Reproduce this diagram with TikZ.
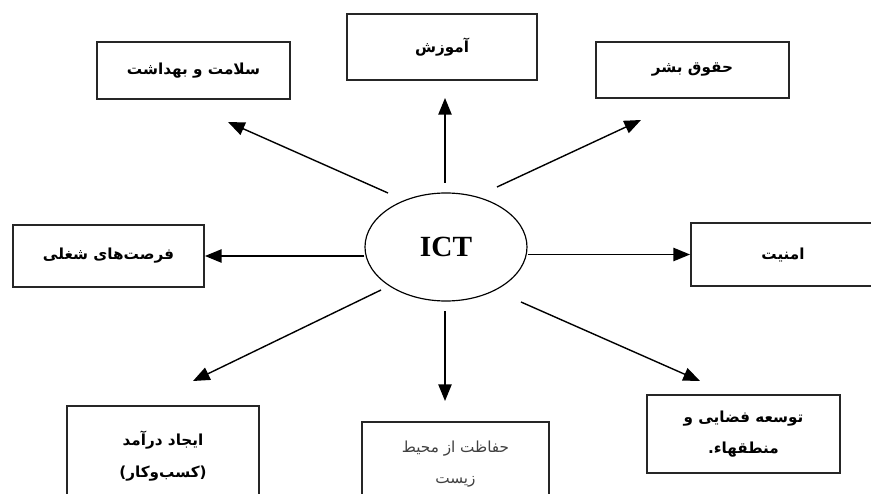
\documentclass[tikz,border=0pt]{standalone}
\usepackage{fontspec}
\setmainfont{Liberation Serif}
\newfontfamily\farsi[Script=Arabic]{DejaVu Sans}
\TeXXeTstate=1
\usetikzlibrary{arrows.meta,shapes.geometric}
\newcommand\fa[1]{\beginR #1\endR}

\begin{document}
\begin{tikzpicture}[x=0.3mm,y=-0.3mm,
    box/.style={draw=black!85,line width=1.6pt,inner sep=0pt,align=center,
      font=\farsi\bfseries\fontsize{13}{27}\selectfont},
    arr/.style={line width=1.2pt,-{Triangle[length=5mm,width=4mm]}}]
    \clip (0,0) rectangle (871,494);
    \node[draw,ellipse,line width=1pt,minimum width=48.6mm,minimum height=32.4mm,
      font=\bfseries\fontsize{25}{30}\selectfont] (ict) at (446,247) {ICT};
    % boxes
    \node[box,minimum width=57.9mm,minimum height=17.1mm] (health) at (193.5,70.5) {\fa{سلامت و بهداشت}};
    \node[box,minimum width=57mm,minimum height=19.8mm] (edu) at (442,47) {\fa{آموزش}};
    \node[box,minimum width=57.9mm,minimum height=16.8mm] (rights) at (692.5,70) {\fa{حقوق بشر}};
    \node[box,minimum width=57.3mm,minimum height=18.6mm] (jobs) at (108.5,256) {\fa{فرصت‌های شغلی}};
    \node[box,minimum width=55.2mm,minimum height=18.9mm] (sec) at (783,254.5) {\fa{امنیت}};
    \node[box,minimum width=57.6mm,minimum height=30mm] (income) at (163,456) {\fa{ایجاد درآمد}\\\fa{(کسب‌وکار)}};
    \node[box,minimum width=56.1mm,minimum height=25.2mm,font=\farsi\fontsize{13}{27}\selectfont,
      text=black!75] (env) at (455.5,464) {\fa{حفاظت از محیط}\\\fa{زیست}};
    \node[box,minimum width=57.9mm,minimum height=23.4mm] (region) at (743.5,434) {\fa{توسعه فضایی و}\\\fa{منطقهاء.}};
    % arrow ends
    \coordinate (h0) at (388,193); \coordinate (h1) at (228,122);
    \coordinate (e0) at (445,183); \coordinate (e1) at (445,98);
    \coordinate (r0) at (497,187); \coordinate (r1) at (641,120);
    \coordinate (i0) at (381,290); \coordinate (i1) at (193,381);
    \coordinate (v0) at (445,311); \coordinate (v1) at (445,401);
    \coordinate (g0) at (521,302); \coordinate (g1) at (700,381);
    \draw[arr] (h0) -- (h1);
    \draw[arr] (e0) -- (e1);
    \draw[arr] (r0) -- (r1);
    \draw[arr] (ict.west |- jobs) -- (jobs.east);
    \draw[arr] (ict.east |- sec) -- (sec.west);
    \draw[arr] (i0) -- (i1);
    \draw[arr] (v0) -- (v1);
    \draw[arr] (g0) -- (g1);
\end{tikzpicture}
\end{document}
